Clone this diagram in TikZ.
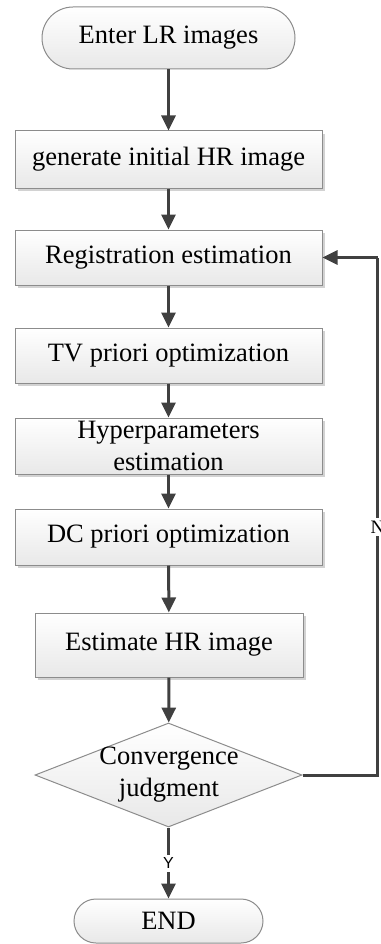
\documentclass[tikz,border=0pt]{standalone}
\usepackage{fontspec}
\setmainfont{Liberation Serif}
\newfontfamily\arialfont{Liberation Sans}
\usetikzlibrary{arrows.meta,shapes.geometric,shadows}
\definecolor{lineg}{HTML}{404040}
\definecolor{borderg}{HTML}{8C8C8C}
\begin{document}
\begin{tikzpicture}[x=1pt,y=-1pt,
  txt/.style={font=\fontsize{26.5}{30}\selectfont, align=center, text=black},
  procbox/.style={txt, draw=borderg, line width=1pt, top color=white, bottom color=gray!18, inner sep=0pt,
     drop shadow={shadow xshift=3pt, shadow yshift=-3pt, fill=gray!35, opacity=1}},
  termbox/.style={txt, draw=borderg, line width=1pt, top color=white, bottom color=gray!18, inner sep=0pt},
  flow/.style={draw=lineg, line width=3pt, -{Triangle[length=15pt,width=14pt]}},
  plain/.style={draw=lineg, line width=3pt}]
\useasboundingbox (0,0) rectangle (380,944);
\node[termbox, minimum width=253, minimum height=62, rounded corners=31] (s) at (168.5,38) {Enter LR images};
\node[procbox, minimum width=307, minimum height=57] (b1) at (168.5,159.5) {generate initial HR image};
\node[procbox, minimum width=307, minimum height=55] (b2) at (168.5,257.5) {Registration estimation};
\node[procbox, minimum width=307, minimum height=55] (b3) at (168.5,355.5) {TV priori optimization};
\node[procbox, minimum width=307, minimum height=56, font=\fontsize{26.5}{32}\selectfont] (b4) at (168.5,446) {Hyperparameters\\estimation};
\node[procbox, minimum width=307, minimum height=56] (b5) at (168.5,537) {DC priori optimization};
\node[procbox, minimum width=268, minimum height=64] (b6) at (169,645) {Estimate HR image};
\node[draw=borderg, line width=1pt, diamond, top color=white, bottom color=gray!18, inner sep=0pt, minimum width=267, minimum height=104] (d) at (168.5,775) {};
\node[txt, font=\fontsize{26.5}{32}\selectfont] (dt) at (169,775) {Convergence\\judgment};
\node[termbox, minimum width=189, minimum height=44, rounded corners=22] (e) at (168.5,921) {END};
\coordinate (r1) at (377.5,775);
\coordinate (r2) at (377.5,257.5);
\draw[flow] (s) -- (b1);
\draw[flow] (b1) -- (b2);
\draw[flow] (b2) -- (b3);
\draw[flow] (b3) -- (b4);
\draw[flow] (b4) -- (b5);
\draw[flow] (b5) -- (b6);
\draw[flow] (b6) -- (d);
\draw[flow] (d) -- node[fill=white, inner sep=3pt, font=\arialfont\fontsize{16}{18}\selectfont] (ylab) {Y} (e);
\draw[plain, line join=miter] (d.east) -- (r1) -- (r2);
\draw[flow, line join=miter] (r2) -- (b2.east);
\node[fill=white, inner sep=3pt, font=\fontsize{19}{21}\selectfont] (nlab) at (377.5,527) {N};
\end{tikzpicture}
\end{document}
